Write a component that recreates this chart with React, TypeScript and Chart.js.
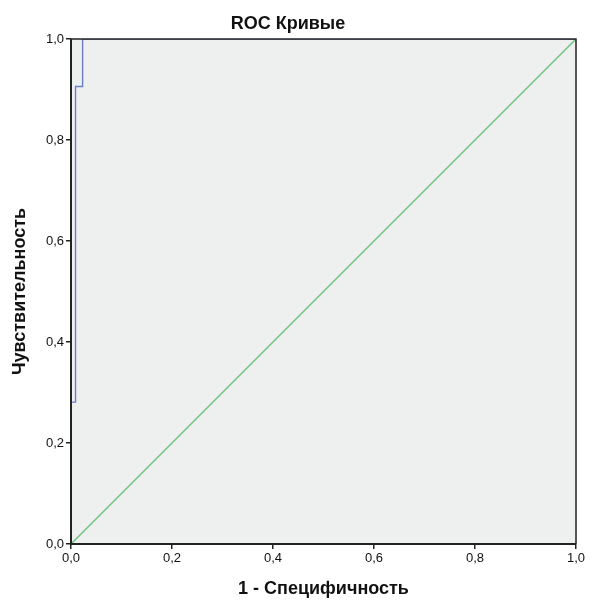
import React, { useEffect, useRef } from "react";
import { Chart, registerables } from "chart.js";

Chart.register(...registerables);

const rocX = [0, 0, 0.009, 0.009, 0.023, 0.023, 1];
const rocY = [0, 0.281, 0.281, 0.906, 0.906, 1, 1];
const refX = [0, 1];
const refY = [0, 1];
const tickValues = [0, 0.2, 0.4, 0.6, 0.8, 1.0];
const titleText = "ROC Кривые";
const xTitle = "1 - Специфичность";
const yTitle = "Чувствительность";

const FONT = "'Liberation Sans', Arial, sans-serif";

const framePlugin = {
  id: "frame",
  beforeDatasetsDraw(chart: any) {
    const { ctx, chartArea: a } = chart;
    ctx.save();
    ctx.fillStyle = "#eef0f0";
    ctx.fillRect(a.left, a.top, a.right - a.left, a.bottom - a.top);
    ctx.restore();
  },
  afterDraw(chart: any) {
    const { ctx, chartArea: a } = chart;
    ctx.save();
    ctx.strokeStyle = "#222";
    ctx.lineWidth = 1.5;
    ctx.beginPath();
    ctx.moveTo(a.left, a.top);
    ctx.lineTo(a.right, a.top);
    ctx.lineTo(a.right, a.bottom);
    ctx.stroke();
    ctx.lineWidth = 2;
    ctx.beginPath();
    ctx.moveTo(a.left, a.top);
    ctx.lineTo(a.left, a.bottom);
    ctx.lineTo(a.right, a.bottom);
    ctx.stroke();
    ctx.restore();
  },
};

const fmt = (v: any) => Number(v).toFixed(1).replace(".", ",");

export default function App() {
  const ref = useRef<HTMLCanvasElement | null>(null);
  useEffect(() => {
    if (!ref.current) return;
    const chart = new Chart(ref.current, {
      type: "scatter",
      data: {
        datasets: [
          {
            label: "ROC",
            data: rocX.map((x, i) => ({ x, y: rocY[i] })),
            showLine: true,
            borderColor: "#6b7fc6",
            borderWidth: 1.4,
            pointRadius: 0,
            tension: 0,
            order: 1,
          },
          {
            label: "Reference",
            data: refX.map((x, i) => ({ x, y: refY[i] })),
            showLine: true,
            borderColor: "#6cc07a",
            borderWidth: 1.4,
            pointRadius: 0,
            order: 2,
          },
        ],
      },
      options: {
        animation: false,
        responsive: false,
        layout: { padding: { left: 0, right: 19, top: 0, bottom: 0 } },
        plugins: {
          legend: { display: false },
          tooltip: { enabled: false },
          title: {
            display: true,
            text: titleText,
            color: "#111",
            font: { family: FONT, size: 18, weight: "bold", lineHeight: 1.2 },
            padding: { top: 13, bottom: 4.4 },
          },
        },
        scales: {
          x: {
            type: "linear",
            min: 0,
            max: 1,
            afterBuildTicks: (s: any) => {
              s.ticks = tickValues.map((v) => ({ value: v }));
            },
            afterFit: (s: any) => {
              s.height = 56;
            },
            ticks: {
              callback: fmt,
              color: "#111",
              font: { family: FONT, size: 13 },
              padding: 2,
              maxRotation: 0,
            },
            grid: {
              drawOnChartArea: false,
              drawTicks: true,
              tickLength: 5,
              color: "#222",
              lineWidth: 1.5,
            },
            border: { display: false },
            title: {
              display: true,
              text: xTitle,
              color: "#111",
              font: { family: FONT, size: 18, weight: "bold" },
              padding: { top: 8, bottom: 0 },
            },
          },
          y: {
            type: "linear",
            min: 0,
            max: 1,
            afterBuildTicks: (s: any) => {
              s.ticks = tickValues.map((v) => ({ value: v }));
            },
            afterFit: (s: any) => {
              s.width = 71;
            },
            ticks: {
              callback: fmt,
              color: "#111",
              font: { family: FONT, size: 13 },
              padding: 2,
            },
            grid: {
              drawOnChartArea: false,
              drawTicks: true,
              tickLength: 5,
              color: "#222",
              lineWidth: 1.5,
            },
            border: { display: false },
            title: {
              display: true,
              text: yTitle,
              color: "#111",
              font: { family: FONT, size: 18, weight: "bold" },
              padding: { top: 9, bottom: 0 },
            },
          },
        },
      },
      plugins: [framePlugin],
    } as any);
    return () => chart.destroy();
  }, []);
  return (
    <div style={{ position: "fixed", left: 0, top: 0, width: 595, height: 600, background: "#fff" }}>
      <canvas ref={ref} width={595} height={600} style={{ width: 595, height: 600 }} />
    </div>
  );
}
